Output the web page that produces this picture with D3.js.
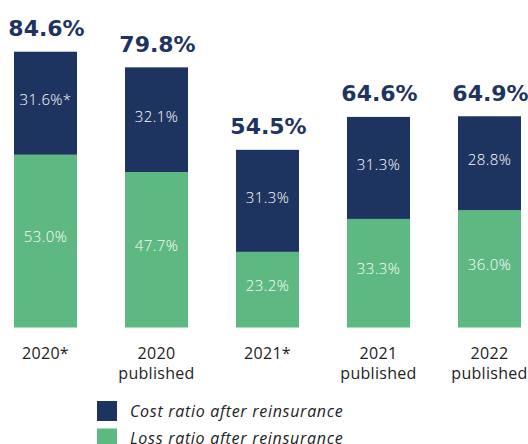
<!DOCTYPE html>
<html>
<head>
<meta charset="utf-8">
<script src="https://cdn.jsdelivr.net/npm/d3@7"></script>
<style>
  html, body { margin: 0; padding: 0; background: #fff; }
  svg { display: block; }
</style>
</head>
<body>
<svg id="chart" width="528" height="444"></svg>
<script>
// Combined ratio breakdown per reporting basis
const categories = ["2020*", "2020\npublished", "2021*", "2021\npublished", "2022\npublished"];
const lossRatio = [53.0, 47.7, 23.2, 33.3, 36.0];
const costRatio = [31.6, 32.1, 31.3, 31.3, 28.8];
const totalRatio = [84.6, 79.8, 54.5, 64.6, 64.9];
const costNote = ["*", "", "", "", ""];
const seriesNames = ["Cost ratio after reinsurance", "Loss ratio after reinsurance"];

const NAVY = "#1e3460";
const GREEN = "#5db882";

const svg = d3.select("#chart");

const x = d3.scaleBand()
  .domain(categories)
  .range([14, 521])
  .paddingInner(0.4324)
  .paddingOuter(0);

const y = d3.scaleLinear()
  .domain([0, 100])
  .range([327.5, 1.5]);

const rows = categories.map((c, i) => ({
  cat: c, loss: lossRatio[i], cost: costRatio[i], total: totalRatio[i], note: costNote[i]
}));

const bars = svg.append("g").selectAll("g").data(rows).join("g");

// loss segment (bottom)
bars.append("rect")
  .attr("x", d => x(d.cat))
  .attr("width", x.bandwidth())
  .attr("y", d => y(d.loss))
  .attr("height", d => y(0) - y(d.loss))
  .attr("fill", GREEN);

// cost segment (stacked on loss)
bars.append("rect")
  .attr("x", d => x(d.cat))
  .attr("width", x.bandwidth())
  .attr("y", d => y(d.loss + d.cost))
  .attr("height", d => y(d.loss) - y(d.loss + d.cost))
  .attr("fill", NAVY);

const cx = d => x(d.cat) + x.bandwidth() / 2;

const segFont = sel => sel
  .attr("text-anchor", "middle")
  .attr("fill", "#ffffff")
  .style("font-family", "'Open Sans', sans-serif")
  .style("font-weight", 300)
  .style("font-size", "15px")
  .style("letter-spacing", "0.4px");

// segment labels
bars.append("text")
  .attr("x", cx)
  .attr("y", d => (y(0) + y(d.loss)) / 2 - 4)
  .attr("dy", "0.35em")
  .call(segFont)
  .text(d => d.loss.toFixed(1) + "%");

bars.append("text")
  .attr("x", cx)
  .attr("y", d => (y(d.loss) + y(d.loss + d.cost)) / 2 - 3)
  .attr("dy", "0.35em")
  .call(segFont)
  .text(d => d.cost.toFixed(1) + "%" + d.note);

// totals above bars
bars.append("text")
  .attr("x", d => cx(d) + 1)
  .attr("y", d => y(d.loss + d.cost) - 15.5)
  .attr("text-anchor", "middle")
  .attr("fill", NAVY)
  .style("font-family", "'DejaVu Sans', sans-serif")
  .style("font-weight", 700)
  .style("font-size", "22px")
  .text(d => d.total.toFixed(1) + "%");

// category labels
const catLabels = svg.append("g").selectAll("text").data(rows).join("text")
  .attr("x", cx)
  .attr("y", 359)
  .attr("text-anchor", "middle")
  .attr("fill", "#222222")
  .style("font-family", "'Open Sans', sans-serif")
  .style("font-size", "16px")
  .style("letter-spacing", "0.3px");
catLabels.selectAll("tspan")
  .data(d => d.cat.split("\n").map(t => ({ t, c: cx(d) })))
  .join("tspan")
  .attr("x", d => d.c)
  .attr("dy", (d, i) => i === 0 ? 0 : 20)
  .text(d => d.t);

// legend
const legend = svg.append("g").attr("transform", "translate(97,401)");
const items = legend.selectAll("g").data(seriesNames).join("g")
  .attr("transform", (d, i) => `translate(0,${i * 27.5})`);
items.append("rect")
  .attr("width", 20)
  .attr("height", 20)
  .attr("fill", (d, i) => i === 0 ? NAVY : GREEN);
items.append("text")
  .attr("x", 33)
  .attr("y", 10)
  .attr("dy", "0.35em")
  .attr("fill", "#222222")
  .style("font-family", "'Open Sans', sans-serif")
  .style("font-style", "italic")
  .style("font-size", "16px")
  .style("letter-spacing", "0.7px")
  .text(d => d);
</script>
</body>
</html>
